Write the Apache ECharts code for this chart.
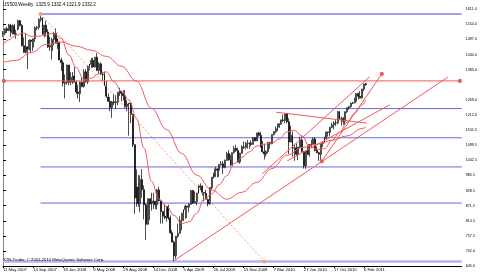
<!DOCTYPE html>
<html><head><meta charset="utf-8">
<script src="https://cdn.jsdelivr.net/npm/echarts@6/dist/echarts.min.js"></script>
<style>html,body{margin:0;padding:0;background:#fff}#c{width:480px;height:276px}</style>
</head><body><div id="c"></div>
<script>
// weekly bars [open, close, low, high]
const bars2007 = [ // 11 May 2007 .. 18 Jan 2008
[1520,1520,1506,1528],[1520,1537,1513,1537],[1537,1530,1520,1544],[1530,1551,1528,1555],
[1551,1522,1506,1555],[1522,1548,1515,1553],[1548,1517,1515,1555],[1517,1518,1499,1533],
[1535,1567,1530,1571],[1567,1549,1545,1570],[1549,1473,1470,1555],[1473,1448,1447,1504],
[1448,1468,1444,1518],[1468,1460,1385,1471],[1460,1494,1455,1496],[1494,1489,1447,1496],
[1468,1499,1453,1500],[1499,1540,1487,1545],[1540,1542,1532,1548],[1542,1572,1534,1576],
[1572,1576,1563,1592],[1576,1515,1515,1580],[1515,1550,1504,1551],[1550,1524,1507,1567],
[1524,1468,1465,1535],[1468,1473,1454,1507],[1455,1496,1421,1503],[1496,1519,1475,1525],
[1519,1482,1482,1538],[1482,1499,1461,1500],[1486,1419,1419,1488],[1419,1409,1378,1428],
[1409,1333,1320,1418]];
const bars2008 = [
[1330,1335,1275,1365],[1335,1400,1327,1402],[1400,1336,1325,1401],[1336,1354,1325,1373],
[1354,1358,1329,1374],[1358,1336,1335,1393],[1336,1299,1291,1342],[1299,1293,1275,1326],
[1293,1335,1261,1339],[1335,1320,1317,1355],[1320,1375,1315,1385],[1375,1337,1335,1385],
[1337,1395,1329,1400],[1395,1403,1380,1405],[1403,1418,1389,1427],[1418,1393,1391,1428],
[1393,1430,1391,1430],[1430,1380,1379,1445],[1380,1405,1367,1411],[1405,1366,1364,1410],
[1366,1365,1340,1375],[1365,1322,1322,1375],[1322,1283,1277,1340],[1280,1264,1262,1294],
[1264,1241,1227,1280],[1241,1262,1202,1265],[1262,1259,1250,1293],[1259,1262,1235,1287],
[1262,1298,1249,1299],[1298,1300,1284,1315],[1300,1294,1264,1302],[1294,1285,1267,1305],
[1285,1244,1238,1306],[1244,1254,1227,1268],[1254,1257,1135,1258],[1257,1215,1182,1257],
[1215,1101,1092,1217],[1101,901,841,1101],[901,942,868,1008],[942,879,867,987],
[879,970,847,986],[970,932,901,1009],[932,875,820,948],[875,802,743,880],
[802,898,800,898],[898,878,817,898],[878,881,853,920],[881,889,859,920],
[889,875,859,889]];
const bars2009 = [
[875,931,857,934],[931,890,888,943],[890,850,804,890],[850,832,805,851],
[832,826,821,877],[826,869,812,870],[869,827,818,875],[827,770,766,835],
[770,735,734,780],[735,683,663,741],[683,757,672,758],[757,768,751,804],
[768,816,767,832],[816,843,779,845],[843,857,814,857],[857,870,822,875],
[870,866,826,871],[866,877,847,880],[877,929,875,930],[929,882,878,930],
[882,887,880,925],[887,919,873,920],[919,940,918,951],[940,946,930,956],
[946,921,910,947],[921,918,888,923],[918,896,896,931],[896,879,869,898],
[879,940,875,941],[940,979,930,979],[979,987,974,996],[987,1010,980,1018],
[1010,1005,978,1013],[1005,1026,980,1027],[1026,1029,1022,1039],[1029,1016,991,1039],
[1016,1042,1012,1045],[1042,1068,1041,1074],[1068,1044,1041,1080],[1044,1025,1020,1063],
[1025,1071,1020,1071],[1071,1087,1068,1097],[1087,1079,1074,1101],[1079,1036,1033,1090],
[1036,1069,1029,1071],[1069,1093,1067,1099],[1093,1091,1085,1113],[1091,1091,1083,1112],
[1091,1106,1086,1119],[1106,1106,1086,1110],[1106,1102,1095,1117],[1102,1127,1102,1128],
[1127,1115,1115,1130]];
const bars2010 = [
[1115,1145,1115,1145],[1145,1136,1131,1150],[1136,1092,1090,1150],[1092,1074,1071,1115],
[1074,1066,1045,1104],[1066,1075,1056,1080],[1075,1109,1068,1112],[1109,1104,1086,1112],
[1104,1139,1103,1139],[1139,1150,1136,1151],[1150,1160,1144,1170],[1160,1167,1152,1181],
[1167,1179,1165,1181],[1179,1194,1175,1195],[1194,1192,1186,1214],[1192,1217,1182,1217],
[1217,1187,1181,1220],[1187,1111,1066,1200],[1111,1136,1110,1173],[1136,1088,1056,1150],
[1088,1089,1040,1104],[1089,1065,1060,1106],[1065,1092,1043,1092],[1092,1118,1085,1131],
[1118,1076,1071,1132],[1076,1022,1011,1076],[1022,1078,1010,1078],[1078,1065,1063,1099],
[1065,1102,1056,1103],[1102,1102,1088,1120],[1102,1122,1100,1128],[1122,1079,1076,1130],
[1079,1071,1069,1095],[1071,1065,1040,1074],[1065,1105,1040,1105],[1105,1110,1092,1110],
[1110,1125,1108,1131],[1125,1149,1122,1149],[1149,1147,1131,1150],[1147,1166,1132,1168],
[1166,1176,1163,1184],[1176,1183,1159,1189],[1183,1183,1171,1196],[1183,1225,1177,1227],
[1225,1199,1194,1228],[1199,1199,1173,1207],[1199,1189,1176,1205],[1189,1225,1174,1225],
[1225,1240,1220,1240],[1240,1244,1233,1247],[1244,1257,1240,1259],[1257,1258,1254,1262]];
const bars2011 = [
[1258,1271,1257,1278],[1271,1293,1263,1293],[1293,1283,1271,1296],[1283,1276,1275,1302],
[1276,1310,1276,1311],[1310,1329,1302,1330],[1325.9,1332.2,1321.9,1332.4]];

// moving averages: [bar index, price]
const maFast = [[0,1476],[3,1495],[7,1512],[11,1521],[15,1508],[19,1509],[23,1514],[27,1520],[31,1500],[35,1438],[39,1391],[43,1345],[47,1351],[51,1368],[55,1375],[59,1338],[63,1302],[67,1269],[71,1201],[75,1088],[79,964],[83,896],[87,869],[91,835],[95,805],[99,811],[103,843],[107,896],[111,916],[115,951],[119,984],[123,1030],[127,1053],[131,1074],[135,1096],[139,1103],[143,1107],[147,1123],[151,1149],[155,1155],[159,1134],[163,1095],[167,1083],[171,1086],[175,1117],[179,1147],[183,1185],[187,1219],[191,1250],[193,1270]];
const maSlow = [[0,1410],[7,1418],[15,1447],[23,1478],[31,1487],[39,1471],[47,1456],[55,1433],[63,1396],[71,1340],[79,1238],[87,1158],[95,1068],[103,987],[111,931],[119,896],[127,922],[135,959],[143,1011],[151,1061],[159,1090],[167,1103],[175,1117],[183,1134],[191,1162],[193,1167]];

// drawing objects: [bar index, price]
const fibPrices = [1592, 1236.7, 1127, 1017.3, 881.5, 662];
const fibNames = ['100.0', '61.8', '50.0', '38.2', '23.6', '0.0'];
const fibStarts = [20, 20, 20, 20, 20, 0];
const chartEnd = 244;
const fibTrend = [[20,1592],[139,662]];
const hLine = [[0.5,1340.7],[243,1340.7]];
const trendLines = [
  [[91,665],[236.6,1355]],
  [[169.5,1038],[201.5,1367]],
  [[138,992],[195,1356]],
  [[145.3,1223],[193.5,1182]],
  [[151.2,1040],[205.8,1251]]
];
const trendCircles = [false, true, false, false, false];

const dateLabels = ['11 May 2007','14 Sep 2007','18 Jan 2008','9 May 2008','29 Aug 2008','14 Dec 2008','5 Apr 2009','26 Jul 2009','15 Nov 2009','7 Mar 2010','27 Jun 2010','17 Oct 2010','6 Feb 2011'];
const labelStep = 16;
const slots = 245;
const priceTicks = [645,702,757.5,814.5,871.5,928.5,985.5,1042.5,1099.5,1156.5,1212,1269,1383,1440,1497,1554,1611];
const priceLabel = 1340.7, bidPrice = 1332.2;

const bars = [].concat(bars2007, bars2008, bars2009, bars2010, bars2011);
const last = bars2011[bars2011.length - 1];
const cats = [];
for (let i = 0; i < slots; i++) cats.push(String(i));

const FF = 'Liberation Sans, Arial, sans-serif';
const RED = '#f05a5a';
const showLab = i => i % labelStep === 0 && i / labelStep < dateLabels.length;

const series = [];
series.push({
  type: 'candlestick', xAxisIndex: 0, yAxisIndex: 0, data: bars, barWidth: 1.4,
  itemStyle: {color: '#ffffff', color0: '#000000', borderColor: '#000000', borderColor0: '#000000', borderWidth: 0.7},
  z: 3
});
fibPrices.forEach((p, k) => {
  series.push({
    type: 'line', xAxisIndex: 1, yAxisIndex: 0, data: [[fibStarts[k], p], [chartEnd, p]],
    symbol: 'none', silent: true,
    lineStyle: {color: k === 5 ? '#b4b4f4' : (k === 0 ? '#8080ee' : '#6868e6'), width: k === 5 ? 2.5 : (k === 0 ? 1.5 : 1)},
    z: 2
  });
});
series.push({
  type: 'scatter', xAxisIndex: 1, yAxisIndex: 0, symbolSize: 1, itemStyle: {opacity: 0},
  data: fibPrices.map((p, k) => [chartEnd, p, fibNames[k]]),
  label: {show: true, formatter: q => q.data[2], position: 'top', align: 'right', distance: 0, offset: [-2, 0.5],
    color: '#4848d8', fontSize: 4, fontFamily: FF},
  z: 6
});
series.push({
  type: 'line', xAxisIndex: 1, yAxisIndex: 0, data: maSlow, smooth: 0.4, smoothMonotone: 'x',
  symbol: 'none', lineStyle: {color: RED, width: 1}, z: 4
});
series.push({
  type: 'line', xAxisIndex: 1, yAxisIndex: 0, data: maFast, smooth: 0.4, smoothMonotone: 'x',
  symbol: 'none', lineStyle: {color: RED, width: 1}, z: 4
});
series.push({
  type: 'line', xAxisIndex: 1, yAxisIndex: 0, data: fibTrend, symbol: 'emptyCircle', symbolSize: 2.2,
  itemStyle: {color: '#f4a27a'}, lineStyle: {color: '#f4a27a', width: 1, type: [2, 2]}, z: 4
});
series.push({
  type: 'line', xAxisIndex: 1, yAxisIndex: 0, data: hLine, symbol: 'emptyCircle', symbolSize: 2.2,
  itemStyle: {color: RED}, lineStyle: {color: RED, width: 1}, z: 4
});
trendLines.forEach((tl, k) => {
  series.push({
    type: 'line', xAxisIndex: 1, yAxisIndex: 0, data: tl,
    symbol: trendCircles[k] ? 'emptyCircle' : 'none', symbolSize: 2.2,
    itemStyle: {color: RED}, lineStyle: {color: RED, width: 1}, z: 4
  });
});
series.push({
  type: 'scatter', xAxisIndex: 1, yAxisIndex: 0, symbolSize: 1, itemStyle: {opacity: 0},
  data: [[chartEnd, bidPrice]],
  label: {show: true, formatter: bidPrice.toFixed(1), position: 'right', distance: 1, color: '#fff',
    backgroundColor: '#000', padding: [1, 2, 0, 2], fontSize: 3.6, fontFamily: FF},
  z: 7
});
series.push({
  type: 'scatter', xAxisIndex: 1, yAxisIndex: 0, symbolSize: 1, itemStyle: {opacity: 0},
  data: [[chartEnd, priceLabel]],
  label: {show: true, formatter: priceLabel.toFixed(1), position: 'right', distance: 1, color: '#fff',
    backgroundColor: '#ff0000', padding: [0.5, 2], fontSize: 3.6, fontFamily: FF},
  z: 8
});

const chart = echarts.init(document.getElementById('c'), null, {renderer: 'canvas'});
chart.setOption({
  animation: false,
  backgroundColor: '#ffffff',
  title: [
    {text: 'US500,Weekly  ' + [last[0], last[3], last[2], last[1]].map(v => v.toFixed(1)).join(' '),
     left: 3, top: 2, padding: 0, textStyle: {fontSize: 4.6, fontWeight: 'normal', color: '#000', fontFamily: FF}},
    {text: 'XTB-Trader, \u00a9 2001-2010 MetaQuotes Software Corp.', left: 3, top: 258, padding: 0,
     textStyle: {fontSize: 4.2, fontWeight: 'normal', color: '#000', fontFamily: FF}}
  ],
  grid: {left: 2, right: 18, top: 1, bottom: 10},
  xAxis: [
    {type: 'category', data: cats, boundaryGap: false,
     axisLine: {show: true, lineStyle: {color: '#000', width: 1}},
     axisTick: {show: true, interval: (i) => showLab(i), length: 2, lineStyle: {color: '#000'}},
     axisLabel: {interval: (i) => showLab(i), formatter: (v, i) => dateLabels[i / labelStep], align: 'left',
       margin: 2, fontSize: 4.2, color: '#000', fontFamily: FF},
     splitLine: {show: false}},
    {type: 'value', min: 0, max: chartEnd, show: false}
  ],
  yAxis: [
    {type: 'value', position: 'right', min: 645, max: 1641, scale: true,
     axisLine: {show: true, lineStyle: {color: '#000', width: 1}},
     axisTick: {show: true, customValues: priceTicks, length: 3, lineStyle: {color: '#000'}},
     axisLabel: {customValues: priceTicks, formatter: v => v.toFixed(1), fontSize: 3.7, color: '#000',
       margin: 4, fontFamily: FF},
     splitLine: {show: false}},
    {type: 'value', position: 'left', min: 645, max: 1641,
     axisLine: {show: true, lineStyle: {color: '#888', width: 1}}, axisTick: {show: false},
     axisLabel: {show: false}, splitLine: {show: false}}
  ],
  series: series
});
</script></body></html>
